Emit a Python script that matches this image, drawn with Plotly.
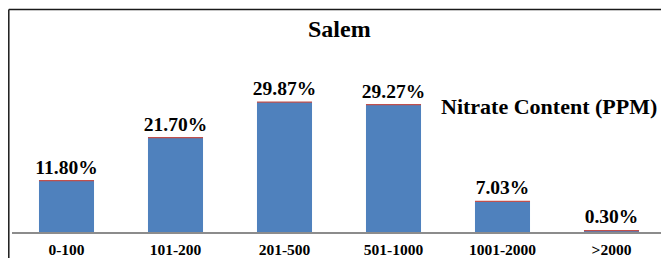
import plotly.graph_objects as go

categories = ["0-100", "101-200", "201-500", "501-1000", "1001-2000", ">2000"]
values = [11.80, 21.70, 29.87, 29.27, 7.03, 0.30]
labels = ["11.80%", "21.70%", "29.87%", "29.27%", "7.03%", "0.30%"]
title_text = "Salem"
legend_text = "Nitrate Content (PPM)"

# page has an 8px body margin; figure sized to fill the rest of the window
OFF = 8
W, H = 669 - OFF, 258 - OFF
ML, MR, MT, MB = 4, 3, 12, 26
plot_h = H - MT - MB
px_per_unit = 4.35
ymax = plot_h / px_per_unit

serif = "Liberation Serif"

fig = go.Figure()
fig.add_trace(go.Bar(
    x=categories, y=values, text=[f"<b>{t}</b>" for t in labels], textposition="outside",
    marker=dict(color="#4f81bd", line=dict(width=0)),
    textfont=dict(family=serif, size=19.5, color="#000000"),
    constraintext="none",
    cliponaxis=False, width=0.505, hoverinfo="skip",
))

shapes = []
# thin red line on top of each bar (derived from data)
for i, v in enumerate(values):
    shapes.append(dict(type="line", xref="x", yref="y", x0=i - 0.2525, x1=i + 0.2525,
                       y0=v, y1=v, line=dict(color="#c0504d", width=1.3)))

def px_to_paper_x(px):
    return (px - OFF - ML) / (W - ML - MR)

def px_to_paper_y(py):
    return (H - MB - (py - OFF)) / plot_h

# outer frame (left and top border)
shapes.append(dict(type="line", xref="paper", yref="paper",
                   x0=px_to_paper_x(8.8), x1=px_to_paper_x(8.8),
                   y0=px_to_paper_y(9.5), y1=px_to_paper_y(262),
                   line=dict(color="#1a1a1a", width=1.5)))
shapes.append(dict(type="line", xref="paper", yref="paper",
                   x0=px_to_paper_x(8.8), x1=px_to_paper_x(672),
                   y0=px_to_paper_y(9.5), y1=px_to_paper_y(9.5),
                   line=dict(color="#1a1a1a", width=1.5)))

annotations = [
    dict(text=f"<b>{title_text}</b>", xref="paper", yref="paper",
         x=px_to_paper_x(339), y=px_to_paper_y(29), xanchor="center", yanchor="middle",
         showarrow=False, font=dict(family=serif, size=24, color="#000000")),
    dict(text=f"<b>{legend_text}</b>", xref="paper", yref="paper",
         x=px_to_paper_x(549), y=px_to_paper_y(107), xanchor="center", yanchor="middle",
         showarrow=False, font=dict(family=serif, size=22, color="#000000")),
]

fig.update_layout(
    width=W, height=H,
    margin=dict(l=ML, r=MR, t=MT, b=MB, pad=0),
    paper_bgcolor="white", plot_bgcolor="white",
    showlegend=False,
    shapes=shapes, annotations=annotations,
    xaxis=dict(showline=True, linecolor="#8c8c8c", linewidth=2, showgrid=False,
               ticks="", tickfont=dict(family=serif, size=15.5, color="#000000"),
               tickvals=categories, ticktext=[f"<b>{c}</b>" for c in categories],
               ticklabelstandoff=2,
               zeroline=False, fixedrange=True, automargin=False),
    yaxis=dict(range=[0, ymax], visible=False, showgrid=False, zeroline=False, fixedrange=True),
)

fig.write_html("out.html")
